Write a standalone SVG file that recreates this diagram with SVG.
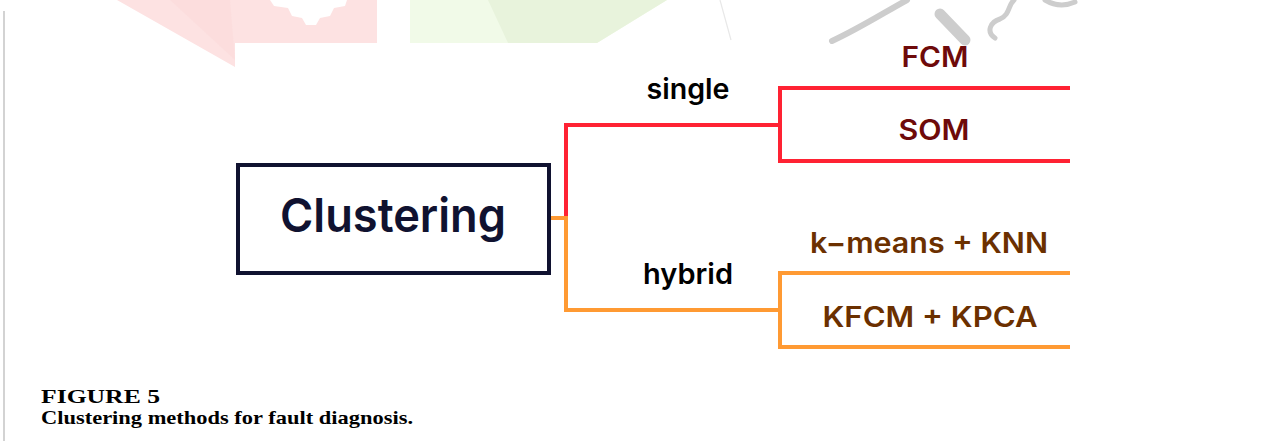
<svg xmlns="http://www.w3.org/2000/svg" width="1287" height="447" viewBox="0 0 1287 447">
<style>
.lbl{font-family:Inter,"Liberation Sans",Arial,sans-serif;font-weight:600;font-size:28px;text-anchor:middle}
.cap{font-family:"Liberation Serif","Times New Roman",serif;font-weight:bold;font-size:19.5px}
.red{stroke:#ff2233;stroke-width:4;fill:none;stroke-linecap:square}
.org{stroke:#ff9a33;stroke-width:4;fill:none;stroke-linecap:square}
</style>
<rect width="1287" height="447" fill="#ffffff"/>
<g id="watermark">
<polygon points="117,0 377,0 377,43 235,43 235,67" fill="#fde2e2"/>
<polygon points="170,0 230,0 235,60" fill="#fbdada" opacity="0.6"/>
<path d="M270,0 L347,0 L345,6 L334,8 L330,16 L320,18 L316,25 L306,25 L302,18 L292,16 L288,8 L274,6 Z" fill="#ffffff"/>
<polygon points="410,0 667,0 597,43 410,43" fill="#f1fae8"/>
<polygon points="488,0 667,0 597,43 508,43" fill="#e8f3dc"/>
<path d="M720,0 L731,40" stroke="#e8e8e8" stroke-width="1.2" fill="none"/>
<path d="M832,41 C860,28 885,12 907,0" stroke="#cdcdcd" stroke-width="6" fill="none" stroke-linecap="round"/>
<path d="M940,14 L965,40" stroke="#cdcdcd" stroke-width="11" fill="none" stroke-linecap="round"/>
<path d="M995,38 C986,32 990,22 1000,19 C1010,15 1008,5 1014,0" stroke="#cdcdcd" stroke-width="5" fill="none" stroke-linecap="round"/>
<path d="M1045,0 C1055,6 1066,6 1075,2" stroke="#cdcdcd" stroke-width="5" fill="none" stroke-linecap="round"/>
</g>
<line x1="4" y1="11" x2="4" y2="441" stroke="#c4c4c4" stroke-width="1.5"/>
<g id="connectors">
<path class="red" d="M566,218 L566,125 L780,125"/>
<path class="red" d="M780,88 L1068,88 M780,88 L780,161 L1068,161"/>
<path class="org" d="M553,218 L566,218 L566,310 L780,310"/>
<path class="org" d="M780,273 L1068,273 M780,273 L780,347 L1068,347"/>
</g>
<g id="clustering">
<rect x="238" y="165" width="311" height="108" fill="#ffffff" stroke="#101230" stroke-width="4"/>
<text x="393" y="232" font-family="Inter,'Liberation Sans',sans-serif" font-weight="600" font-size="47" text-anchor="middle" fill="#101230" textLength="226" lengthAdjust="spacingAndGlyphs">Clustering</text>
</g>
<g id="single"><text class="lbl" x="688" y="99" fill="#000000" textLength="83" lengthAdjust="spacingAndGlyphs">single</text></g>
<g id="hybrid"><text class="lbl" x="688" y="284" fill="#000000" textLength="90" lengthAdjust="spacingAndGlyphs">hybrid</text></g>
<g id="fcm"><text class="lbl" x="935" y="67" fill="#6e0a0a" textLength="67" lengthAdjust="spacingAndGlyphs">FCM</text></g>
<g id="som"><text class="lbl" x="934" y="140" fill="#6e0a0a" textLength="71" lengthAdjust="spacingAndGlyphs">SOM</text></g>
<g id="kmeans"><text class="lbl" x="929" y="253" fill="#6b3000" textLength="238" lengthAdjust="spacingAndGlyphs">k−means + KNN</text></g>
<g id="kfcm"><text class="lbl" x="930" y="327" fill="#6b3000" textLength="215" lengthAdjust="spacingAndGlyphs">KFCM + KPCA</text></g>
<g id="caption">
<text class="cap" x="41" y="402.5" fill="#000000" textLength="119" lengthAdjust="spacingAndGlyphs">FIGURE 5</text>
<text class="cap" x="41" y="423.5" fill="#000000" textLength="372" lengthAdjust="spacingAndGlyphs">Clustering methods for fault diagnosis.</text>
</g>
</svg>
